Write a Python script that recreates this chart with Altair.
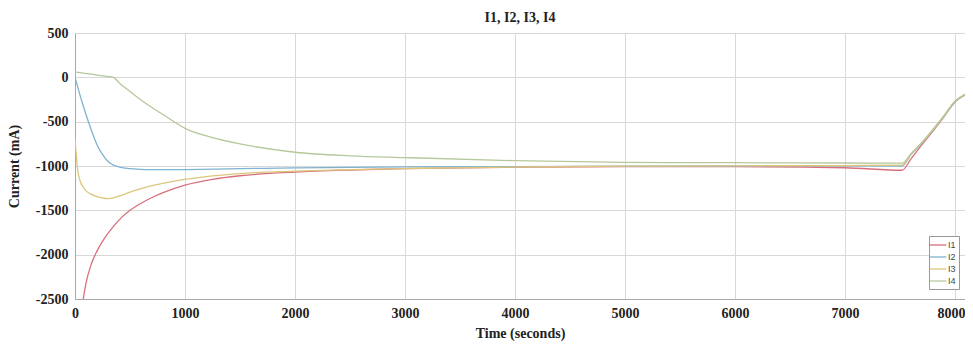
import altair as alt
import pandas as pd

# Time points (seconds)
T = [0, 25, 50, 75, 100, 150, 200, 250, 300, 350, 400, 500, 600, 700, 800,
     1000, 1250, 1500, 2000, 2500, 3000, 4000, 5000, 6000, 7000, 7520,
     7600, 7700, 7800, 7900, 8000, 8100, 8165]

I1 = [-4000, -3200, -2750, -2500, -2320, -2100, -1960, -1850, -1760, -1680,
      -1610, -1500, -1420, -1355, -1300, -1215, -1150, -1110, -1068, -1045,
      -1030, -1015, -1008, -1008, -1020, -1048, -920, -760, -605, -445, -278,
      -193, -152]
I2 = [0, -110, -220, -320, -420, -600, -760, -870, -950, -990, -1010, -1030,
      -1038, -1041, -1042, -1040, -1035, -1030, -1022, -1015, -1010, -1007,
      -1003, -1000, -998, -1000, -872, -742, -596, -440, -274, -191, -151]
I3 = [-690, -1050, -1180, -1240, -1280, -1320, -1345, -1360, -1368, -1360,
      -1340, -1295, -1255, -1222, -1195, -1152, -1112, -1085, -1058, -1040,
      -1028, -1012, -1002, -998, -995, -990, -866, -736, -591, -436, -271,
      -189, -150]
I4 = [60, 56, 52, 47, 43, 35, 26, 17, 9, 0, -60, -160, -255, -340, -420,
      -575, -680, -750, -845, -885, -905, -940, -958, -963, -966, -968, -862,
      -732, -587, -432, -267, -186, -148]

SERIES = ["I1", "I2", "I3", "I4"]
COLORS = ["#d8707c", "#7fb2cf", "#dcc67c", "#b6c89c"]

rows = []
for name, vals in zip(SERIES, [I1, I2, I3, I4]):
    for t, v in zip(T, vals):
        rows.append({"t": t, "v": v, "s": name})
df = pd.DataFrame(rows)

serif = "Liberation Serif"

chart = alt.Chart(df).mark_line(strokeWidth=1.3, interpolate="monotone", clip=True).encode(
    x=alt.X("t:Q", scale=alt.Scale(domain=[0, 8091], nice=False, zero=False),
            axis=alt.Axis(values=list(range(0, 8001, 1000)),
                          labelExpr="toString(datum.value)",
                          labelAlign=alt.ExprRef("datum.value == 8000 ? 'right' : 'center'"),
                          labelOffset=alt.ExprRef("datum.value == 8000 ? 10 : 0"),
                          title="Time (seconds)")),
    y=alt.Y("v:Q", scale=alt.Scale(domain=[-2500, 500], nice=False),
            axis=alt.Axis(values=list(range(-2500, 501, 500)),
                          labelExpr="toString(datum.value)",
                          title="Current (mA)")),
    color=alt.Color("s:N", scale=alt.Scale(domain=SERIES, range=COLORS),
                    legend=alt.Legend(title=None, orient="none", legendX=854, legendY=203,
                                      symbolType="M-1.6,0H1.6", symbolSize=110,
                                      symbolStrokeWidth=1.3,
                                      labelFont="Liberation Sans", labelFontSize=9,
                                      labelColor="#444", rowPadding=1,
                                      padding=3, strokeColor="#999", fillColor="white",
                                      labelOffset=4)),
).properties(
    width=890, height=266,
    title=alt.Title("I1, I2, I3, I4", font=serif, fontSize=14, fontWeight="bold",
                    color="#222", offset=1, anchor="middle"),
    autosize=alt.AutoSizeParams(type="none"),
    padding={"left": 67, "top": 25, "right": 0, "bottom": 42},
).configure_view(
    strokeWidth=0
).configure_axis(
    labelFont=serif, labelFontSize=14, labelFontWeight="bold", labelColor="#222",
    titleFont=serif, titleFontSize=14, titleFontWeight="bold", titleColor="#222",
    gridColor="#d8d8d8", domainColor="#a8a8a8", ticks=False, labelPadding=7,
).configure_axisX(titlePadding=6).configure_axisY(titlePadding=14)

chart.save("out.html", embed_options={"renderer": "svg", "actions": False})
